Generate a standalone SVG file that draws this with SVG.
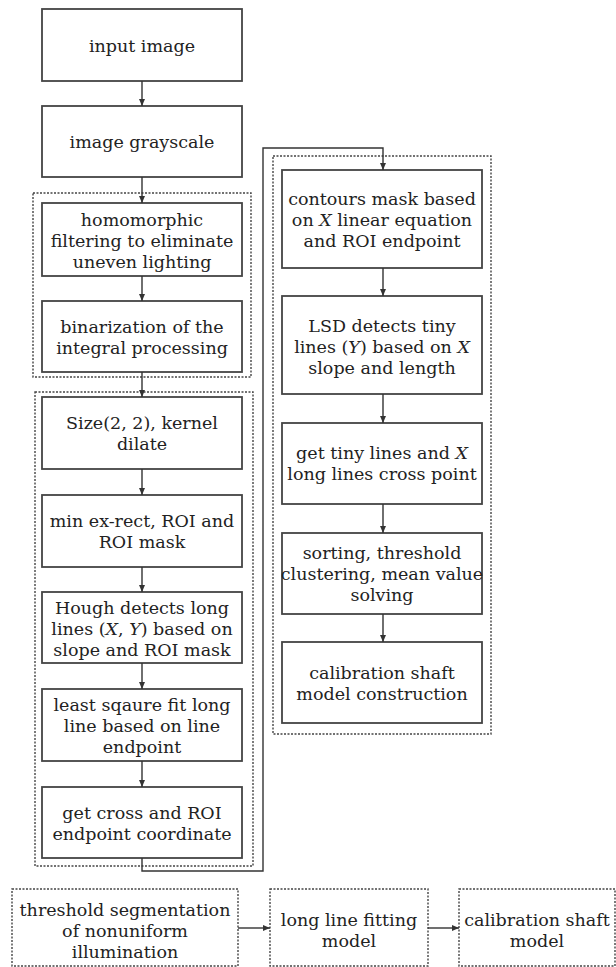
<svg xmlns="http://www.w3.org/2000/svg" width="616" height="967" viewBox="0 0 616 967" font-family="'DejaVu Serif', 'Liberation Serif', serif">
<defs>
<marker id="ah" markerWidth="8" markerHeight="8" refX="7" refY="4" orient="auto" markerUnits="userSpaceOnUse">
<path d="M0,1 L7,4 L0,7 Z" fill="#333"/>
</marker>
<style>
.box{fill:#fff;stroke:#444;stroke-width:1.8}
.grp{fill:none;stroke:#444;stroke-width:1.4;stroke-dasharray:2,1.5}
.leg{fill:#fff;stroke:#444;stroke-width:1.4;stroke-dasharray:2,1.5}
.c{fill:none;stroke:#333;stroke-width:1.4}
text{font-family:'DejaVu Serif','Liberation Serif',serif;font-size:17.5px;fill:#222;text-anchor:middle}
.i{font-style:italic}
</style>
</defs>
<rect width="616" height="967" fill="#fff"/>
<g id="groups">
<rect class="grp" x="33" y="193" width="218" height="184"/>
<rect class="grp" x="35" y="392" width="218" height="474"/>
<rect class="grp" x="273" y="156" width="218" height="578"/>
</g>
<g id="n1"><rect class="box" x="42" y="9" width="200" height="72"/><text x="142" y="52">input image</text></g>
<g id="n2"><rect class="box" x="42" y="106" width="200" height="71"/><text x="142" y="148">image grayscale</text></g>
<g id="n3"><rect class="box" x="42" y="203" width="200" height="73"/><text x="142" y="225.5">homomorphic</text><text x="142" y="246.5">filtering to eliminate</text><text x="142" y="267.5">uneven lighting</text></g>
<g id="n4"><rect class="box" x="42" y="301" width="200" height="71"/><text x="142" y="332.5">binarization of the</text><text x="142" y="353.5">integral processing</text></g>
<g id="n5"><rect class="box" x="42" y="397" width="200" height="72"/><text x="142" y="429">Size(2, 2), kernel</text><text x="142" y="450">dilate</text></g>
<g id="n6"><rect class="box" x="42" y="495" width="200" height="72"/><text x="142" y="527">min ex-rect, ROI and</text><text x="142" y="548">ROI mask</text></g>
<g id="n7"><rect class="box" x="42" y="592" width="200" height="71"/><text x="142" y="614">Hough detects long</text><text x="142" y="635">lines (<tspan class="i">X</tspan>, <tspan class="i">Y</tspan>) based on</text><text x="142" y="656">slope and ROI mask</text></g>
<g id="n8"><rect class="box" x="42" y="689" width="200" height="72"/><text x="142" y="711">least sqaure fit long</text><text x="142" y="732">line based on line</text><text x="142" y="753">endpoint</text></g>
<g id="n9"><rect class="box" x="42" y="787" width="200" height="71"/><text x="142" y="818.5">get cross and ROI</text><text x="142" y="839.5">endpoint coordinate</text></g>
<g id="n10"><rect class="box" x="282" y="170" width="200" height="98"/><text x="382" y="205">contours mask based</text><text x="382" y="226">on <tspan class="i">X</tspan> linear equation</text><text x="382" y="247">and ROI endpoint</text></g>
<g id="n11"><rect class="box" x="282" y="296" width="200" height="98"/><text x="382" y="332">LSD detects tiny</text><text x="382" y="353">lines (<tspan class="i">Y</tspan>) based on <tspan class="i">X</tspan></text><text x="382" y="374">slope and length</text></g>
<g id="n12"><rect class="box" x="282" y="423" width="200" height="81"/><text x="382" y="459">get tiny lines and <tspan class="i">X</tspan></text><text x="382" y="480">long lines cross point</text></g>
<g id="n13"><rect class="box" x="282" y="533" width="200" height="81"/><text x="382" y="559">sorting, threshold</text><text x="382" y="580">clustering, mean value</text><text x="382" y="601">solving</text></g>
<g id="n14"><rect class="box" x="282" y="642" width="200" height="81"/><text x="382" y="679">calibration shaft</text><text x="382" y="700">model construction</text></g>
<g id="l1"><rect class="leg" x="12" y="889" width="226" height="77"/><text x="125" y="916">threshold segmentation</text><text x="125" y="937">of nonuniform</text><text x="125" y="958">illumination</text></g>
<g id="l2"><rect class="leg" x="270" y="889" width="158" height="77"/><text x="349" y="926">long line fitting</text><text x="349" y="947">model</text></g>
<g id="l3"><rect class="leg" x="459" y="889" width="156" height="77"/><text x="537" y="926">calibration shaft</text><text x="537" y="947">model</text></g>
<g id="connectors">
<line class="c" x1="142" y1="81" x2="142" y2="106" marker-end="url(#ah)"/>
<line class="c" x1="142" y1="177" x2="142" y2="203" marker-end="url(#ah)"/>
<line class="c" x1="142" y1="276" x2="142" y2="301" marker-end="url(#ah)"/>
<line class="c" x1="142" y1="372" x2="142" y2="397" marker-end="url(#ah)"/>
<line class="c" x1="142" y1="469" x2="142" y2="495" marker-end="url(#ah)"/>
<line class="c" x1="142" y1="567" x2="142" y2="592" marker-end="url(#ah)"/>
<line class="c" x1="142" y1="663" x2="142" y2="689" marker-end="url(#ah)"/>
<line class="c" x1="142" y1="761" x2="142" y2="787" marker-end="url(#ah)"/>
<path class="c" d="M142,858 V871 H263 V148 H383 V170" marker-end="url(#ah)"/>
<line class="c" x1="383" y1="268" x2="383" y2="296" marker-end="url(#ah)"/>
<line class="c" x1="383" y1="394" x2="383" y2="423" marker-end="url(#ah)"/>
<line class="c" x1="383" y1="504" x2="383" y2="533" marker-end="url(#ah)"/>
<line class="c" x1="383" y1="614" x2="383" y2="642" marker-end="url(#ah)"/>
<line class="c" x1="238" y1="928" x2="270" y2="928" marker-end="url(#ah)"/>
<line class="c" x1="428" y1="928" x2="459" y2="928" marker-end="url(#ah)"/>
</g>
</svg>
